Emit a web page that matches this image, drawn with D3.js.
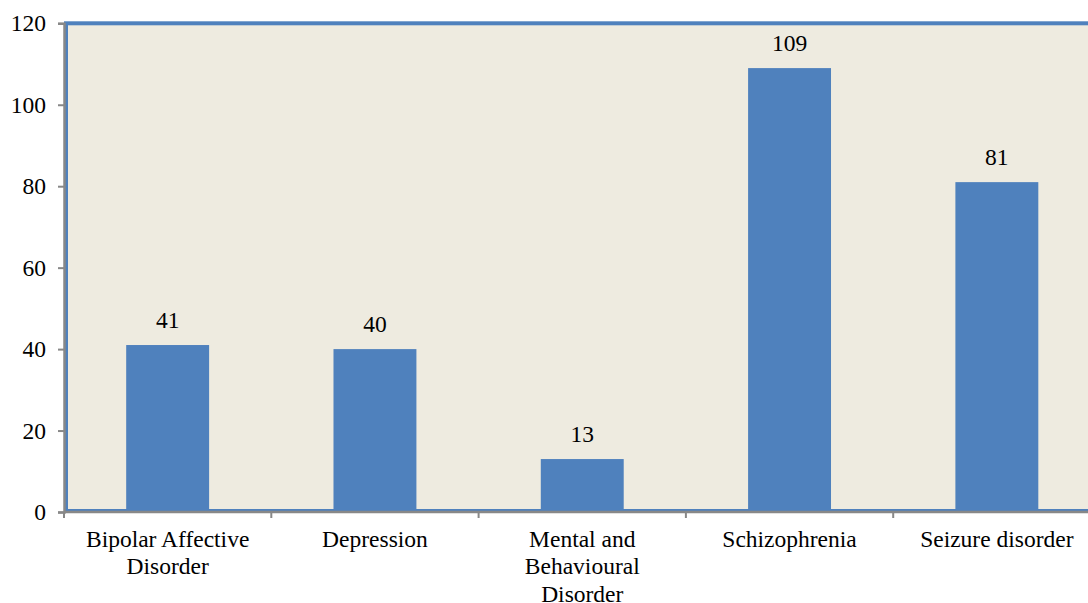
<!DOCTYPE html>
<html>
  <head>
    <meta charset="utf-8" />
    <script src="https://d3js.org/d3.v7.min.js"></script>
    <style>
      body { margin: 0; background: #fff; }
      text { font-family: "Liberation Serif", "Times New Roman", serif; fill: #000; }
    </style>
  </head>
  <body>
    <svg id="viz"></svg>
    <script>
      var categories = ["Bipolar Affective|Disorder", "Depression", "Mental and|Behavioural|Disorder", "Schizophrenia", "Seizure disorder"];
      var values = [41, 40, 13, 109, 81];
      var yTicks = [0, 20, 40, 60, 80, 100, 120];

      var width = 1088, height = 603;
      var plotLeft = 64, plotTop = 23.3, plotBottom = 512, plotRight = 1100.5;
      var fontSize = "23.5px";

      var svg = d3.select("#viz").attr("width", width).attr("height", height);

      var x = d3.scaleBand().domain(categories).range([plotLeft, plotRight])
          .paddingInner(0.6).paddingOuter(0.3);
      var y = d3.scaleLinear().domain([0, 120]).range([plotBottom, plotTop]);

      // plot background with blue frame
      svg.append("rect")
          .attr("x", plotLeft + 2).attr("y", plotTop)
          .attr("width", plotRight - plotLeft).attr("height", plotBottom - plotTop - 1)
          .attr("fill", "#eeebe0")
          .attr("stroke", "#4f81bd").attr("stroke-width", 4);

      // bars
      svg.selectAll("rect.bar").data(values).enter().append("rect")
          .attr("class", "bar")
          .attr("x", function(d, i) { return x(categories[i]); })
          .attr("y", function(d) { return y(d); })
          .attr("width", x.bandwidth())
          .attr("height", function(d) { return y(0) - y(d) - 1; })
          .attr("fill", "#4f81bd");

      // value labels
      svg.selectAll("text.val").data(values).enter().append("text")
          .attr("class", "val")
          .attr("x", function(d, i) { return x(categories[i]) + x.bandwidth() / 2; })
          .attr("y", function(d) { return y(d) - 17; })
          .attr("text-anchor", "middle")
          .style("font-size", fontSize)
          .text(function(d) { return d; });

      // y axis
      var yAxis = svg.append("g").attr("transform", "translate(" + plotLeft + ",0)")
          .call(d3.axisLeft(y).tickValues(yTicks).tickSize(6).tickPadding(12));
      yAxis.select(".domain").attr("stroke", "#888").attr("stroke-width", 2.5);
      yAxis.selectAll(".tick line").attr("stroke", "#888").attr("stroke-width", 2);
      yAxis.selectAll(".tick text").style("font-size", fontSize)
          .attr("font-family", null).attr("fill", "#000");

      // x axis line and category boundary ticks
      var step = x.step();
      var bounds = d3.range(categories.length + 1).map(function(i) { return plotLeft + i * step; });
      svg.append("line")
          .attr("x1", plotLeft).attr("x2", width)
          .attr("y1", plotBottom).attr("y2", plotBottom)
          .attr("stroke", "#888").attr("stroke-width", 2.5);
      svg.selectAll("line.xt").data(bounds).enter().append("line")
          .attr("class", "xt")
          .attr("x1", function(d) { return d; }).attr("x2", function(d) { return d; })
          .attr("y1", plotBottom).attr("y2", plotBottom + 6)
          .attr("stroke", "#888").attr("stroke-width", 2);

      // category labels
      var cat = svg.selectAll("text.cat").data(categories).enter().append("text")
          .attr("class", "cat")
          .attr("text-anchor", "middle")
          .style("font-size", fontSize);
      cat.each(function(d) {
        var t = d3.select(this);
        var cx = x(d) + x.bandwidth() / 2;
        d.split("|").forEach(function(line, i) {
          t.append("tspan").attr("x", cx).attr("y", 547 + i * 27.3).text(line);
        });
      });
    </script>
  </body>
</html>
